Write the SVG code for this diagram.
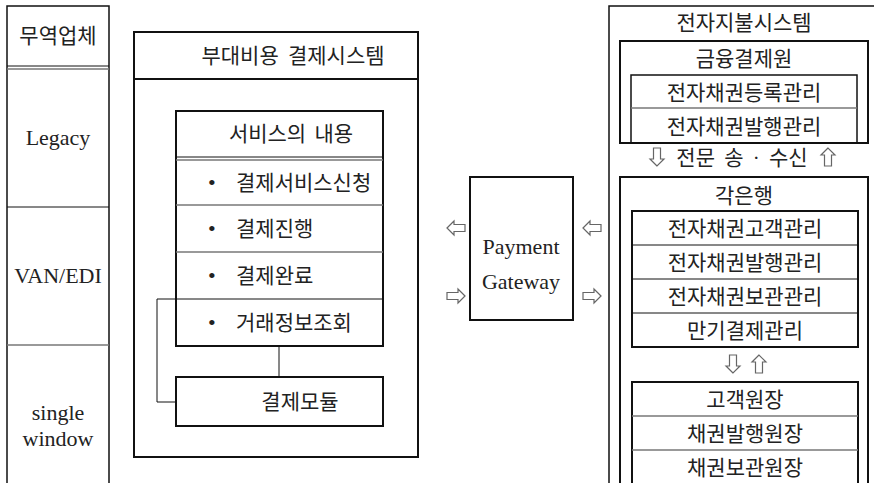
<svg xmlns="http://www.w3.org/2000/svg" width="874" height="483" viewBox="0 0 874 483">
<style>
.ko{font-family:"Liberation Serif","Noto Sans CJK KR",serif;font-size:21px;fill:#222;text-anchor:middle}
.kl{font-family:"Liberation Serif","Noto Sans CJK KR",serif;font-size:21px;fill:#222}
.bu{font-family:"Liberation Serif",serif;font-size:22px;fill:#222}
.la{font-family:"Liberation Serif",serif;font-size:22px;fill:#222;text-anchor:middle}
.bx{fill:#fff;stroke:#111;stroke-width:2}
.bt{fill:none;stroke:#111;stroke-width:1.5}
.dv{stroke:#111;stroke-width:1}
.dg{stroke:#777;stroke-width:1.5}
.ha{fill:#fff;stroke:#666;stroke-width:1.2}
.cn{fill:none;stroke:#111;stroke-width:1}
</style>
<defs>
<polygon id="down" class="ha" points="0,9 -7,2 -3.5,2 -3.5,-9 3.5,-9 3.5,2 7,2"/>
<polygon id="up" class="ha" points="0,-9 -7,-2 -3.5,-2 -3.5,9 3.5,9 3.5,-2 7,-2"/>
</defs>
<rect width="874" height="483" fill="#fff"/>

<!-- Left column -->
<g id="trade-company">
<path class="bt" d="M7,490 V6 H109 V490"/>
<text class="ko" x="58" y="43">무역업체</text>
<line class="dv" x1="7" y1="66" x2="109" y2="66"/>
<line class="dg" x1="7" y1="69" x2="109" y2="69"/>
</g>
<g id="legacy">
<text class="la" x="58" y="145">Legacy</text>
<line class="dv" x1="7" y1="207" x2="109" y2="207"/>
</g>
<g id="van-edi">
<text class="la" x="58" y="283">VAN/EDI</text>
<line class="dg" x1="7" y1="345" x2="109" y2="345"/>
</g>
<g id="single-window">
<text class="la" x="58" y="420">single</text>
<text class="la" x="58" y="446">window</text>
</g>

<!-- Middle system -->
<g id="extra-cost-system">
<rect class="bx" x="134" y="32" width="284" height="425"/>
<line class="dv" x1="134" y1="79" x2="418" y2="79" style="stroke-width:2"/>
<text class="ko" x="293" y="63" word-spacing="4">부대비용 결제시스템</text>
</g>
<g id="service-content">
<rect class="bx" x="176" y="111" width="207" height="235"/>
<text class="ko" x="291" y="141" word-spacing="3">서비스의 내용</text>
<line class="dv" x1="176" y1="157" x2="383" y2="157"/>
<line class="dg" x1="176" y1="160" x2="383" y2="160"/>
<text class="bu" x="208" y="190">•</text>
<text class="kl" x="236" y="190">결제서비스신청</text>
<line class="dg" x1="176" y1="205" x2="383" y2="205"/>
<text class="bu" x="208" y="236">•</text>
<text class="kl" x="236" y="236">결제진행</text>
<line class="dg" x1="176" y1="252" x2="383" y2="252"/>
<text class="bu" x="208" y="283">•</text>
<text class="kl" x="236" y="283">결제완료</text>
<line class="dv" x1="176" y1="299" x2="383" y2="299"/>
<text class="bu" x="208" y="330">•</text>
<text class="kl" x="236" y="330">거래정보조회</text>
</g>
<g id="payment-module">
<rect class="bx" x="176" y="377" width="207" height="49"/>
<text class="ko" x="300" y="409">결제모듈</text>
</g>

<!-- Payment Gateway -->
<g id="payment-gateway">
<rect class="bx" x="470" y="177" width="103" height="143"/>
<text class="la" x="521" y="254">Payment</text>
<text class="la" x="521" y="289">Gateway</text>
</g>

<!-- Right: electronic payment system -->
<g id="e-payment-system">
<rect class="bt" x="609" y="6" width="280" height="490"/>
<text class="ko" x="744" y="30">전자지불시스템</text>
<text class="ko" x="742" y="165" word-spacing="4">전문 송 · 수신</text>
<use href="#down" x="657" y="157"/>
<use href="#up" x="828" y="157"/>
</g>
<g id="kftc">
<rect class="bx" x="620" y="41" width="248" height="102"/>
<text class="ko" x="744" y="66">금융결제원</text>
<rect class="bt" x="631" y="75" width="226" height="68"/>
<line class="dg" x1="631" y1="108" x2="857" y2="108"/>
<text class="ko" x="744" y="100">전자채권등록관리</text>
<text class="ko" x="744" y="134">전자채권발행관리</text>
</g>
<g id="each-bank">
<rect class="bx" x="620" y="177" width="248" height="320"/>
<text class="ko" x="744" y="203">각은행</text>
<rect class="bx" x="632" y="211" width="226" height="136"/>
<line class="dv" x1="632" y1="245" x2="858" y2="245"/>
<line class="dv" x1="632" y1="279" x2="858" y2="279"/>
<line class="dv" x1="632" y1="313" x2="858" y2="313"/>
<text class="ko" x="745" y="236">전자채권고객관리</text>
<text class="ko" x="745" y="270">전자채권발행관리</text>
<text class="ko" x="745" y="304">전자채권보관관리</text>
<text class="ko" x="745" y="338">만기결제관리</text>
</g>
<g id="ledger">
<rect class="bx" x="632" y="382" width="226" height="120"/>
<line class="dg" x1="632" y1="416" x2="858" y2="416"/>
<line class="dg" x1="632" y1="450" x2="858" y2="450"/>
<text class="ko" x="745" y="407">고객원장</text>
<text class="ko" x="745" y="441">채권발행원장</text>
<text class="ko" x="745" y="475">채권보관원장</text>
</g>

<!-- Connectors -->
<g id="connectors">
<line class="cn" x1="279" y1="346" x2="279" y2="377"/>
<polyline class="cn" points="176,299 157,299 157,402 176,402"/>
<polygon class="ha" points="447,228 454,221 454,224.5 465,224.5 465,231.5 454,231.5 454,235"/>
<polygon class="ha" points="465,296 458,289 458,292.5 447,292.5 447,299.5 458,299.5 458,303"/>
<polygon class="ha" points="583,228 590,221 590,224.5 601,224.5 601,231.5 590,231.5 590,235"/>
<polygon class="ha" points="601,296 594,289 594,292.5 583,292.5 583,299.5 594,299.5 594,303"/>
<use href="#down" x="733" y="364"/>
<use href="#up" x="759" y="364"/>
</g>
</svg>
